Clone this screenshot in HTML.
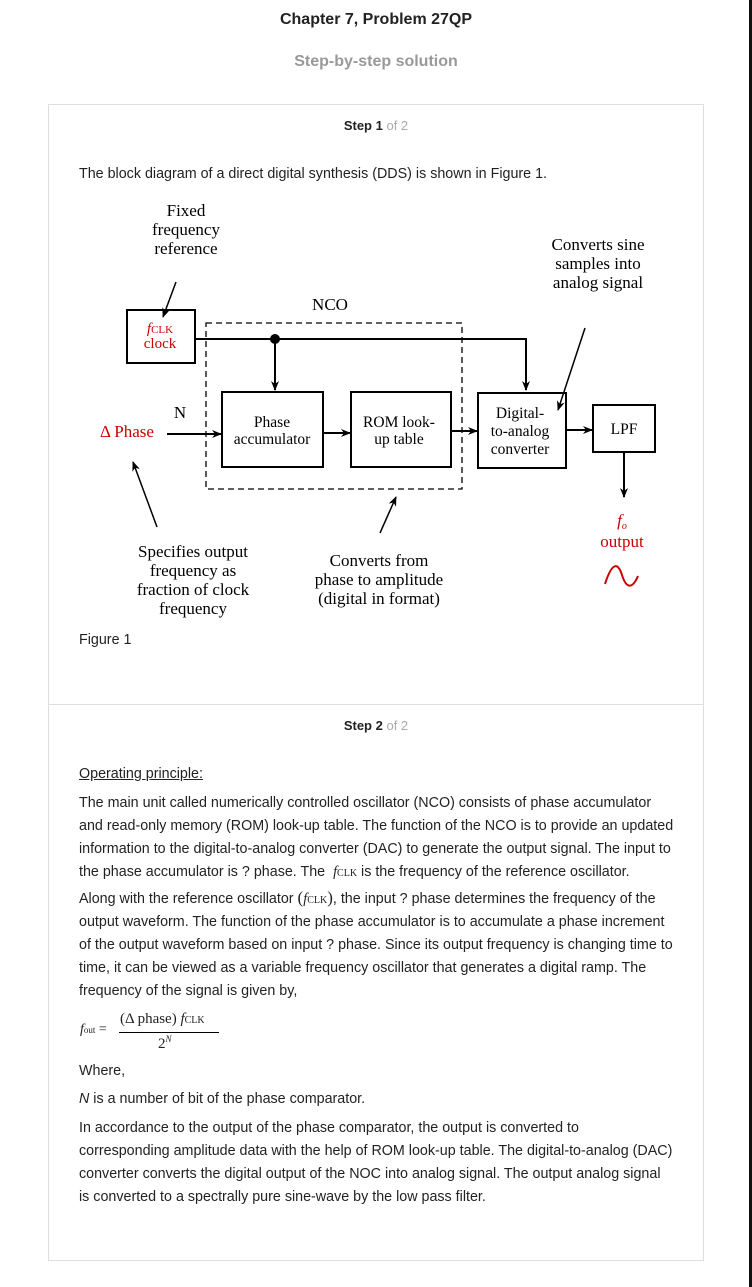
<!DOCTYPE html>
<html><head><meta charset="utf-8"><style>
body{margin:0;width:752px;height:1287px;background:#fff;position:relative;overflow:hidden;font-family:"Liberation Sans",Arial,sans-serif;color:#222}
.a{position:absolute;white-space:nowrap}
.t{font-size:14.3px;left:79px}
.c{text-align:center;width:100%;left:0}
.card{position:absolute;left:48px;top:104px;width:654px;height:1155px;border:1px solid #ddd}
</style></head><body>
<div style="position:absolute;left:749px;top:0;width:3px;height:1287px;background:#111"></div>
<div class="a c" style="top:11px;font-size:16px;font-weight:bold">Chapter 7, Problem 27QP</div>
<div class="a c" style="top:53px;font-size:16px;font-weight:bold;color:#999">Step-by-step solution</div>
<div class="card"></div>
<div style="position:absolute;left:49px;top:704px;width:654px;height:1px;background:#ddd"></div>
<div class="a" style="left:0;width:752px;text-align:center;top:118px;font-size:13px"><b>Step 1</b> <span style="color:#aaa">of 2</span></div>
<div class="a" style="left:0;width:752px;text-align:center;top:718px;font-size:13px"><b>Step 2</b> <span style="color:#aaa">of 2</span></div>
<div class="a t" style="top:166px">The block diagram of a direct digital synthesis (DDS) is shown in Figure 1.</div>
<div class="a t" style="top:632px">Figure 1</div>

<svg class="a" style="left:0;top:0" width="752" height="700" font-family="Liberation Serif,serif" font-size="17">
<defs><marker id="ar" markerWidth="10" markerHeight="8" refX="9" refY="4" orient="auto" markerUnits="userSpaceOnUse"><path d="M0,0 L10,4 L0,8 L3,4z" fill="#000"/></marker></defs>
<g fill="#000" text-anchor="middle">
<text x="186" y="216">Fixed</text><text x="186" y="235">frequency</text><text x="186" y="254">reference</text>
<text x="598" y="250">Converts sine</text><text x="598" y="269">samples into</text><text x="598" y="288">analog signal</text>
<text x="330" y="310">NCO</text>
<text x="180" y="418">N</text>
<text x="272" y="427" font-size="15.5">Phase</text><text x="272" y="444" font-size="15.5">accumulator</text>
<text x="399" y="427" font-size="15.5">ROM look-</text><text x="399" y="444" font-size="15.5">up table</text>
<text x="520" y="418" font-size="15.5">Digital-</text><text x="520" y="436" font-size="15.5">to-analog</text><text x="520" y="454" font-size="15.5">converter</text>
<text x="624" y="434" font-size="15.5">LPF</text>
<text x="193" y="557">Specifies output</text><text x="193" y="576">frequency as</text><text x="193" y="595">fraction of clock</text><text x="193" y="614">frequency</text>
<text x="379" y="566">Converts from</text><text x="379" y="585">phase to amplitude</text><text x="379" y="604">(digital in format)</text>
</g>
<g fill="#c00" text-anchor="middle">
<text x="160" y="333" font-size="15"><tspan font-style="italic">f</tspan><tspan font-size="11">CLK</tspan></text>
<text x="160" y="348" font-size="15">clock</text>
<text x="127" y="437">Δ Phase</text>
<text x="622" y="526" font-style="italic">f<tspan font-size="10" dy="3">o</tspan></text>
<text x="622" y="547">output</text>
</g>
<path d="M605,584 C612,562 618,562 622,575 C626,588 632,590 638,576" fill="none" stroke="#c00" stroke-width="2"/>
<g fill="none" stroke="#000" stroke-width="2">
<rect x="127" y="310" width="68" height="53"/>
<rect x="222" y="392" width="101" height="75"/>
<rect x="351" y="392" width="100" height="75"/>
<rect x="478" y="393" width="88" height="75"/>
<rect x="593" y="405" width="62" height="47"/>
<rect x="206" y="323" width="256" height="166" stroke-width="1.3" stroke-dasharray="6,4"/>
<path d="M195,339 H526 V390" marker-end="url(#ar)"/>
<path d="M275,339 V390" marker-end="url(#ar)"/>
<path d="M167,434 H221" marker-end="url(#ar)"/>
<path d="M323,433 H350" marker-end="url(#ar)"/>
<path d="M451,431 H477" marker-end="url(#ar)"/>
<path d="M566,430 H592" marker-end="url(#ar)"/>
<path d="M624,452 V497" marker-end="url(#ar)"/>
<path d="M176,282 L163,317" stroke-width="1.5" marker-end="url(#ar)"/>
<path d="M585,328 L558,410" stroke-width="1.5" marker-end="url(#ar)"/>
<path d="M157,527 L133,462" stroke-width="1.5" marker-end="url(#ar)"/>
<path d="M380,533 L396,497" stroke-width="1.5" marker-end="url(#ar)"/>
</g>
<circle cx="275" cy="339" r="5" fill="#000"/>
</svg>

<div class="a t" style="top:766px;text-decoration:underline">Operating principle:</div>
<div class="a t" style="top:795px">The main unit called numerically controlled oscillator (NCO) consists of phase accumulator</div>
<div class="a t" style="top:818px">and read-only memory (ROM) look-up table. The function of the NCO is to provide an updated</div>
<div class="a t" style="top:841px">information to the digital-to-analog converter (DAC) to generate the output signal. The input to</div>
<div class="a t" style="top:864px">the phase accumulator is ? phase. The &nbsp;<i style="font-family:'Liberation Serif',serif">f</i><span style="font-family:'Liberation Serif',serif;font-size:10px">CLK</span> is the frequency of the reference oscillator.</div>
<div class="a t" style="top:888px">Along with the reference oscillator <span style="font-family:'Liberation Serif',serif"><span style="font-size:17px">(</span><i>f</i><span style="font-size:10px">CLK</span><span style="font-size:17px">)</span></span>, the input ? phase determines the frequency of the</div>
<div class="a t" style="top:914px">output waveform. The function of the phase accumulator is to accumulate a phase increment</div>
<div class="a t" style="top:937px">of the output waveform based on input ? phase. Since its output frequency is changing time to</div>
<div class="a t" style="top:960px">time, it can be viewed as a variable frequency oscillator that generates a digital ramp. The</div>
<div class="a t" style="top:983px">frequency of the signal is given by,</div>
<div class="a" style="left:80px;top:1022px;font-family:'Liberation Serif',serif;font-size:14px"><i>f</i><span style="font-size:9px">out</span> =</div>
<div class="a" style="left:120px;top:1011px;font-family:'Liberation Serif',serif;font-size:15px">(Δ phase) <i>f</i><span style="font-size:10px">CLK</span></div>
<div style="position:absolute;left:119px;top:1032px;width:100px;height:1px;background:#000"></div>
<div class="a" style="left:158px;top:1034px;font-family:'Liberation Serif',serif;font-size:15px">2<sup style="font-size:9px;font-style:italic">N</sup></div>
<div class="a t" style="top:1063px">Where,</div>
<div class="a t" style="top:1091px"><i>N</i> is a number of bit of the phase comparator.</div>
<div class="a t" style="top:1120px">In accordance to the output of the phase comparator, the output is converted to</div>
<div class="a t" style="top:1143px">corresponding amplitude data with the help of ROM look-up table. The digital-to-analog (DAC)</div>
<div class="a t" style="top:1166px">converter converts the digital output of the NOC into analog signal. The output analog signal</div>
<div class="a t" style="top:1189px">is converted to a spectrally pure sine-wave by the low pass filter.</div>
</body></html>
